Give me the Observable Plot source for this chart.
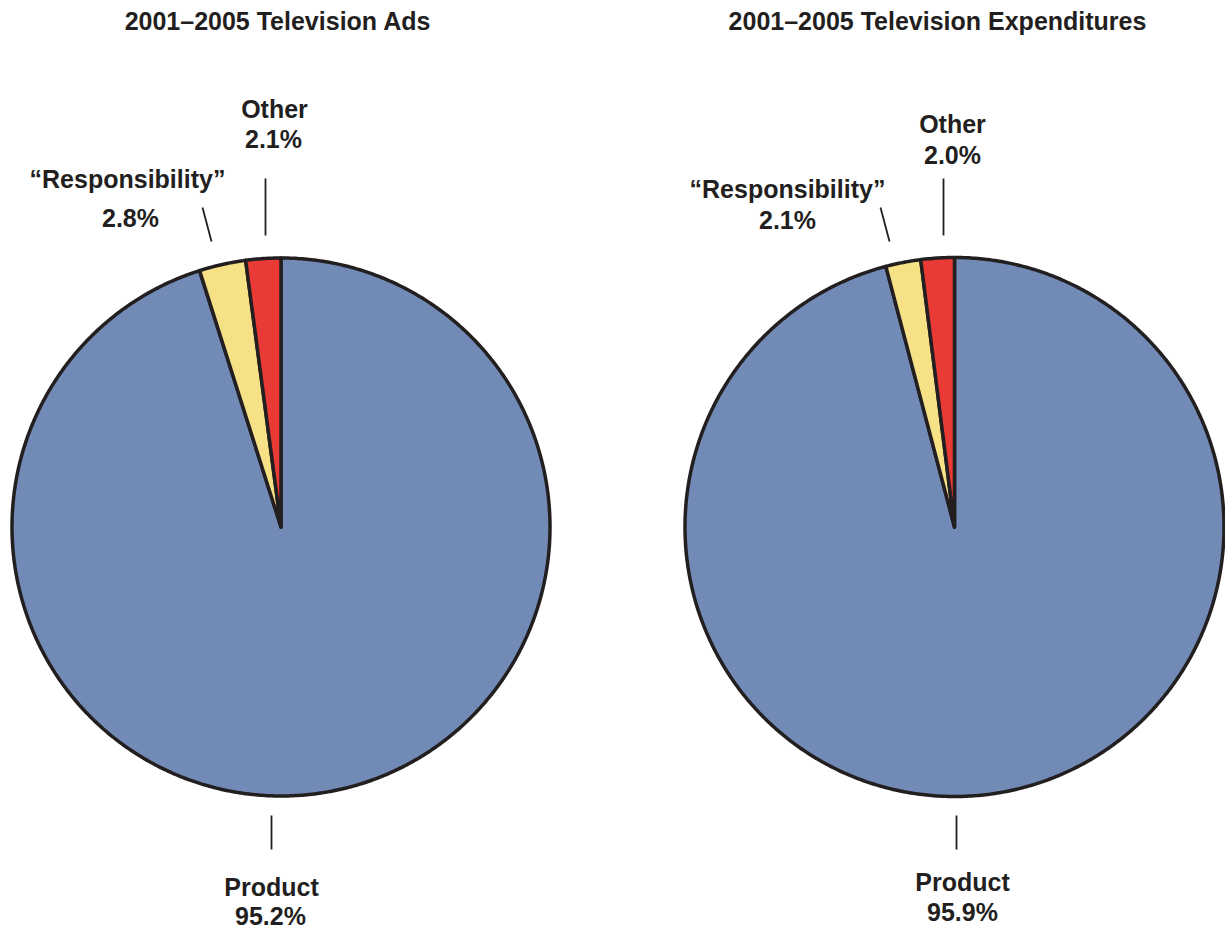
<!DOCTYPE html>
<html>
<head>
<meta charset="utf-8">
<script src="https://cdn.jsdelivr.net/npm/d3@7"></script>
<script src="https://cdn.jsdelivr.net/npm/@observablehq/plot@0.6"></script>
<style>
  html, body { margin: 0; padding: 0; background: #ffffff; }
  #chart svg { display: block; }
</style>
</head>
<body>
<div id="chart"></div>
<script>
// ---- Data ----
const categories = ["Product", "\u201CResponsibility\u201D", "Other"];
const adsShares = [95.2, 2.8, 2.1];
const expenditureShares = [95.9, 2.1, 2.0];
const pieTitles = ["2001\u20132005 Television Ads", "2001\u20132005 Television Expenditures"];
const sliceColors = ["#728bb6", "#f7e186", "#e93a35"];

// ---- Layout (pixels) ----
const W = 1225, H = 928;
const pies = [
  {cx: 281, cy: 527, r: 269, title: {x: 277, y: 29}},
  {cx: 954.5, cy: 527, r: 269.5, title: {x: 937, y: 29}}
];
// label layout per pie, per category: name baseline, value baseline, leader line
const labelLayout = [
  [
    {nx: 271, ny: 895, vx: 270, vy: 924, l: [271, 815, 271, 849]},
    {nx: 127, ny: 187, vx: 130, vy: 226, l: [202, 207, 211, 241]},
    {nx: 274, ny: 117, vx: 273, vy: 147, l: [265, 178, 265, 235]}
  ],
  [
    {nx: 962, ny: 890, vx: 962, vy: 920, l: [956, 815, 956, 849]},
    {nx: 787, ny: 197, vx: 787, vy: 228, l: [880, 207, 889, 241]},
    {nx: 952, ny: 132, vx: 952, vy: 163, l: [943, 178, 943, 235]}
  ]
];

const seriesList = [adsShares, expenditureShares];

// Build slice polygons (arc points fanned to centre) from the shares
const slicePts = [];
seriesList.forEach((shares, p) => {
  const {cx, cy, r} = pies[p];
  const total = d3.sum(shares);
  let a0 = 0;
  shares.forEach((v, i) => {
    const a1 = a0 + (v / total) * 2 * Math.PI;
    const n = Math.max(2, Math.ceil((a1 - a0) / (Math.PI / 360)));
    for (let k = 0; k <= n; k++) {
      const a = a0 + (a1 - a0) * k / n;
      slicePts.push({key: p + "-" + i, category: categories[i],
        x: cx + r * Math.sin(a), y: cy - r * Math.cos(a), cx, cy});
    }
    a0 = a1;
  });
});

const labelRows = [];
const leaderRows = [];
seriesList.forEach((shares, p) => {
  shares.forEach((v, i) => {
    const L = labelLayout[p][i];
    labelRows.push({x: L.nx, y: L.ny, text: categories[i]});
    labelRows.push({x: L.vx, y: L.vy, text: v.toFixed(1) + "%"});
    leaderRows.push({x1: L.l[0], y1: L.l[1], x2: L.l[2], y2: L.l[3]});
  });
});
const titleRows = pies.map((pie, p) => ({x: pie.title.x, y: pie.title.y, text: pieTitles[p]}));

const font = "'Liberation Sans', Arial, Helvetica, sans-serif";

const chart = Plot.plot({
  width: W,
  height: H,
  margin: 0,
  x: {domain: [0, W], range: [0, W], axis: null},
  y: {domain: [0, H], range: [0, H], axis: null},
  color: {domain: categories, range: sliceColors},
  style: {background: "#ffffff"},
  marks: [
    Plot.area(slicePts, {
      x1: "x", y1: "y", x2: "cx", y2: "cy", z: "key",
      fill: "category", stroke: "#231f20", strokeWidth: 3.5
    }),
    Plot.link(leaderRows, {
      x1: "x1", y1: "y1", x2: "x2", y2: "y2",
      stroke: "#231f20", strokeWidth: 1.8
    }),
    Plot.text(labelRows, {
      x: "x", y: "y", text: "text", lineAnchor: "bottom", textAnchor: "middle",
      fontFamily: font, fontWeight: "bold", fontSize: 25, fill: "#231f20"
    }),
    Plot.text(titleRows, {
      x: "x", y: "y", text: "text", lineAnchor: "bottom", textAnchor: "middle",
      fontFamily: font, fontWeight: "bold", fontSize: 25, fill: "#231f20"
    })
  ]
});
document.getElementById("chart").appendChild(chart);
</script>
</body>
</html>
